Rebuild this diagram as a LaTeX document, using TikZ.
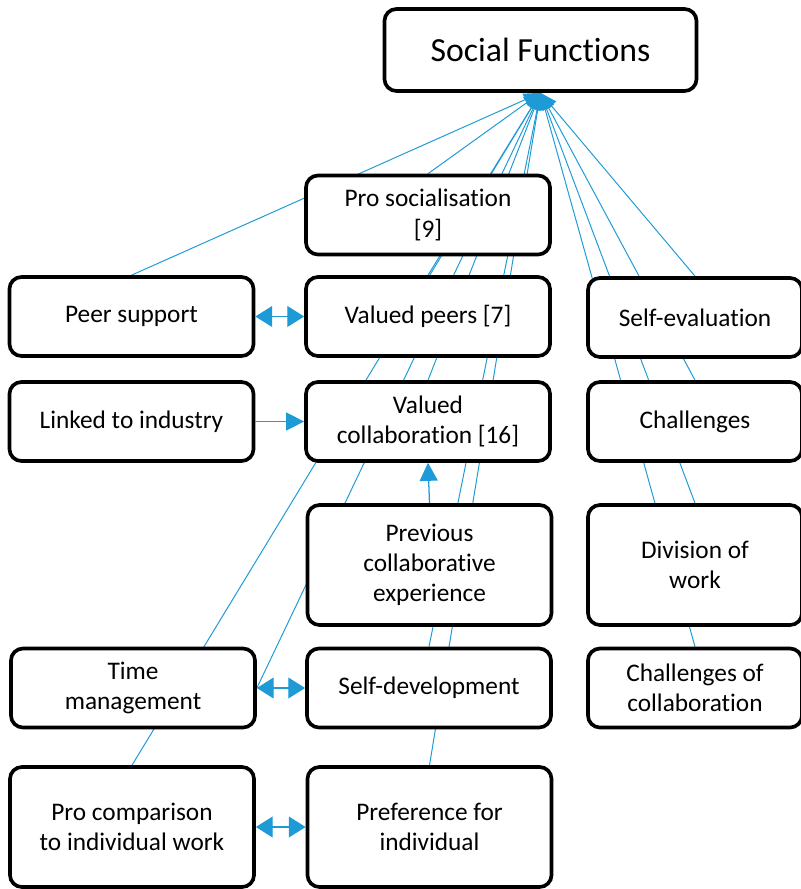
\documentclass[tikz,border=0pt]{standalone}
\usepackage{fontspec}
\setmainfont{Carlito}[Ligatures=NoCommon]
\usetikzlibrary{arrows.meta,backgrounds}
\definecolor{linkblue}{RGB}{30,155,215}

\begin{document}
\begin{tikzpicture}[x=0.025cm,y=-0.025cm,
        box/.style={draw,line width=2.6pt,rounded corners=0.3cm,fill=white,align=center,
            minimum width=6.1cm,minimum height=1.975cm,inner sep=2pt,
            font=\fontsize{18}{21.5}\selectfont},
        tallbox/.style={box,minimum height=3.0cm},
        sidebox/.style={box,minimum width=5.35cm},
        hubline/.style={linkblue,line width=0.7pt,-{Triangle[length=0.42cm,width=0.32cm]}},
        linkarrow/.style={linkblue,line width=0.9pt,{Triangle[length=0.42cm,width=0.52cm]}-{Triangle[length=0.42cm,width=0.52cm]}},
        onearrow/.style={linkblue,line width=0.9pt,-{Triangle[length=0.45cm,width=0.45cm]}}]
        \useasboundingbox (0,0) rectangle (801,889);

        % Top node
        \node[box,minimum width=7.8cm,minimum height=2.05cm,font=\fontsize{24}{28}\selectfont] (social) at (540.5,50) {Social Functions};

        % Left and middle columns
        \node[box] (prosoc) at (428,215) {Pro socialisation\\{[9]}};
        \node[box] (peer) at (131.5,316.5) {Peer support};
        \node[box] (vpeers) at (428,316.5) {Valued peers [7]};
        \node[box] (linked) at (131.5,421.5) {Linked to industry};
        \node[box] (vcollab) at (428,421.5) {Valued\\collaboration [16]};
        \node[tallbox] (prevcollab) at (429.5,565) {Previous\\collaborative\\experience};
        \node[box] (time) at (133,688) {Time\\management};
        \node[box] (selfdev) at (429,688) {Self-development};
        \node[tallbox] (procomp) at (132,827) {Pro comparison\\to individual work};
        \node[tallbox] (preference) at (429.5,827) {Preference for\\individual};

        % Right column
        \node[sidebox] (selfeval) at (695,317.5) {Self-evaluation};
        \node[sidebox] (challenges) at (695,421.5) {Challenges};
        \node[sidebox,minimum height=3.0cm] (division) at (695,565) {Division of\\work};
        \node[sidebox] (chcollab) at (695,688) {Challenges of\\collaboration};

        % Lines into the top node (behind the boxes)
        \begin{scope}[on background layer]
            \foreach \n in {peer,prosoc,vpeers,vcollab,procomp,selfdev,preference,selfeval,challenges,division,chcollab} {
                \draw[hubline] (\n.north) -- (social.south);
            }
            \draw[hubline] (time.east) -- (social.south);
        \end{scope}

        % Links between boxes
        \draw[linkarrow] (peer.east) -- (vpeers.west);
        \draw[onearrow] (linked.east) -- (vcollab.west);
        \draw[onearrow] (prevcollab.north) -- (vcollab.south);
        \draw[linkarrow] (time.east) -- (selfdev.west);
        \draw[linkarrow] (procomp.east) -- (preference.west);

    \end{tikzpicture}
\end{document}
